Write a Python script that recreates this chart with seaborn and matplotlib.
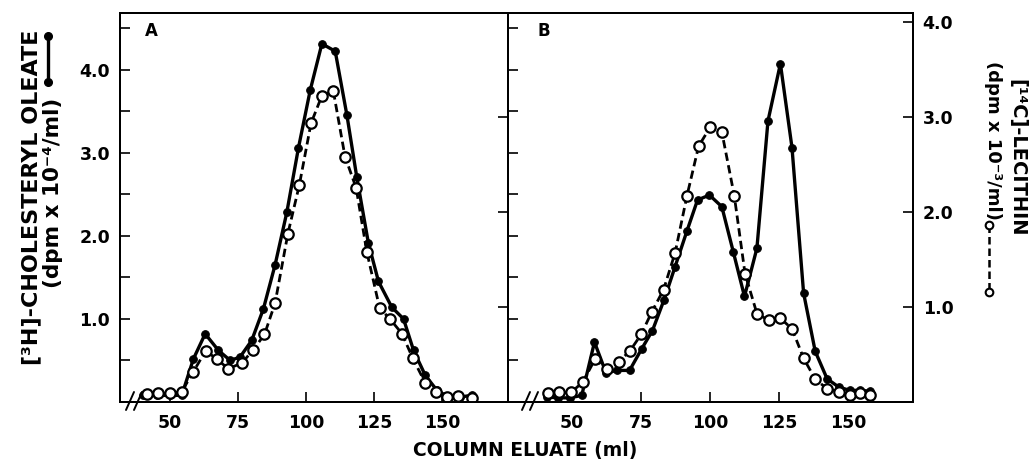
import matplotlib
matplotlib.use('Agg')
import matplotlib.pyplot as plt
from matplotlib.lines import Line2D
import seaborn as sns

# Panel A - [3H]-cholesteryl oleate (filled, left scale)
a_chol_ml = [40.3, 45.2, 50.1, 54.4, 58.7, 63.0, 67.9, 72.2, 75.8, 80.1,
             84.4, 88.7, 93.0, 97.3, 101.6, 105.9, 110.8, 115.1, 118.7, 123.0,
             126.7, 131.6, 135.9, 139.6, 143.9, 148.2, 152.4, 156.7, 161.0]
a_chol = [0.08, 0.08, 0.08, 0.08, 0.52, 0.82, 0.62, 0.50, 0.54, 0.74,
          1.12, 1.65, 2.28, 3.06, 3.75, 4.31, 4.22, 3.45, 2.71, 1.91,
          1.45, 1.14, 1.00, 0.62, 0.32, 0.14, 0.06, 0.06, 0.08]

# Panel A - [14C]-lecithin (open, right scale)
a_lec_ml = [41.5, 45.8, 50.1, 54.4, 58.7, 63.2, 67.3, 71.5, 76.5, 80.7,
            84.8, 88.7, 93.4, 97.6, 101.9, 105.9, 110.1, 114.4, 118.5, 122.4,
            127.1, 131.0, 135.3, 139.3, 143.9, 147.9, 151.8, 156.1, 161.0]
a_lec = [0.08, 0.09, 0.09, 0.11, 0.32, 0.54, 0.45, 0.35, 0.41, 0.55,
         0.71, 1.04, 1.77, 2.28, 2.93, 3.22, 3.27, 2.58, 2.25, 1.58,
         0.99, 0.87, 0.72, 0.46, 0.20, 0.10, 0.05, 0.06, 0.04]

# Panel B - [3H]-cholesteryl oleate (filled, left scale)
b_chol_ml = [40.8, 45.0, 49.3, 53.5, 58.1, 62.3, 66.2, 70.8, 75.2, 79.1,
             83.3, 87.3, 91.6, 95.4, 99.7, 104.2, 108.4, 112.4, 116.9, 120.9,
             125.4, 129.6, 133.8, 138.0, 142.3, 146.5, 150.5, 154.3, 158.0]
b_chol = [0.06, 0.05, 0.05, 0.08, 0.72, 0.35, 0.38, 0.38, 0.64, 0.86,
          1.23, 1.63, 2.06, 2.43, 2.49, 2.35, 1.80, 1.27, 1.85, 3.38,
          4.07, 3.06, 1.31, 0.61, 0.28, 0.18, 0.14, 0.14, 0.13]

# Panel B - [14C]-lecithin (open, right scale)
b_lec_ml = [41.2, 45.4, 49.6, 53.9, 58.3, 62.6, 66.8, 71.0, 75.0, 78.9,
            83.1, 87.3, 91.6, 95.8, 100.0, 104.2, 108.7, 112.6, 116.9, 121.1,
            125.4, 129.6, 133.8, 138.0, 142.3, 146.5, 150.5, 154.3, 158.0]
b_lec = [0.09, 0.10, 0.10, 0.21, 0.45, 0.35, 0.42, 0.54, 0.71, 0.95,
         1.18, 1.57, 2.17, 2.69, 2.89, 2.84, 2.17, 1.35, 0.93, 0.86,
         0.88, 0.77, 0.46, 0.24, 0.14, 0.11, 0.07, 0.09, 0.07]

x_ticks = [50, 75, 100, 125, 150]
left_ticks = [0.5, 1.0, 1.5, 2.0, 2.5, 3.0, 3.5, 4.0, 4.5]
left_labels = ['', '1.0', '', '2.0', '', '3.0', '', '4.0', '']
right_ticks = [1.0, 2.0, 3.0, 4.0]
right_labels = ['1.0', '2.0', '3.0', '4.0']

sns.set_style('ticks')
plt.rcParams['font.family'] = ['DejaVu Sans']
plt.rcParams['font.weight'] = 'bold'
plt.rcParams['text.color'] = 'black'
plt.rcParams['axes.labelcolor'] = 'black'

fig = plt.figure(figsize=(10.29, 4.69), dpi=100)
W, H = 1029, 469


def fx(px):
    return px / W


def fy(py):
    return 1 - py / H


ax_a = fig.add_axes([fx(120), fy(402), fx(508) - fx(120), fy(13) - fy(402)])
ax_b = fig.add_axes([fx(508), fy(402), fx(913) - fx(508), fy(13) - fy(402)])
ax_a2 = ax_a.twinx()
ax_b2 = ax_b.twinx()

filled = dict(color='black', linewidth=2.4, marker='o', markersize=5.5,
              markerfacecolor='black', markeredgecolor='black', sort=False)
opened = dict(color='black', linewidth=2.0, linestyle=(0, (3, 1.6)), marker='o',
              markersize=7.5, markerfacecolor='white', markeredgecolor='black',
              markeredgewidth=1.6, sort=False)

sns.lineplot(x=a_chol_ml, y=a_chol, ax=ax_a, **filled)
sns.lineplot(x=a_lec_ml, y=a_lec, ax=ax_a2, **opened)
sns.lineplot(x=b_chol_ml, y=b_chol, ax=ax_b, **filled)
sns.lineplot(x=b_lec_ml, y=b_lec, ax=ax_b2, **opened)

ax_a.set_xlim(31.7, 174.3)
ax_b.set_xlim(26.8, 173.4)
for ax in (ax_a, ax_b):
    ax.set_ylim(0, 4.68)
for ax in (ax_a2, ax_b2):
    ax.set_ylim(0, 4.09)

for ax in (ax_a, ax_b, ax_a2, ax_b2):
    for sp in ax.spines.values():
        sp.set_linewidth(1.4)
        sp.set_color('black')
    ax.tick_params(direction='in', length=7, width=1.2, colors='black',
                   labelsize=12.5)
    ax.set_xlabel('')
    ax.set_ylabel('')

ax_a.set_xticks(x_ticks)
ax_b.set_xticks(x_ticks)
ax_a.set_xticklabels([str(t) for t in x_ticks])
ax_b.set_xticklabels([str(t) for t in x_ticks])
ax_a.tick_params(axis='x', pad=9)
ax_b.tick_params(axis='x', pad=9)

ax_a.set_yticks(left_ticks)
ax_a.set_yticklabels(left_labels)
ax_a.tick_params(axis='y', pad=7)
ax_b.set_yticks(left_ticks)
ax_b.set_yticklabels([])
ax_a2.set_yticks(right_ticks[:3])
ax_a2.set_yticklabels([])
ax_b2.set_yticks(right_ticks)
ax_b2.set_yticklabels(right_labels)
ax_b2.tick_params(axis='y', pad=7)

ax_a.text(0.08, 0.955, 'A', transform=ax_a.transAxes, fontsize=12,
          fontweight='bold', ha='center', va='center')
ax_b.text(0.088, 0.953, 'B', transform=ax_b.transAxes, fontsize=12,
          fontweight='bold', ha='center', va='center')

# axis break marks
for ax, x0 in ((ax_a, 126), (ax_b, 522)):
    left = 120 if ax is ax_a else 508
    width = 388 if ax is ax_a else 405
    for dx in (0, 8):
        xs = [(x0 + dx - left) / width, (x0 + dx + 8 - left) / width]
        ys = [-8 / 389, 10 / 389]
        ax.plot(xs, ys, color='black', linewidth=1.4, transform=ax.transAxes,
                clip_on=False)

fig.text(fx(525), fy(450), 'COLUMN ELUATE (ml)', fontsize=13.5,
         fontweight='bold', ha='center', va='center')

label_font = ['DejaVu Sans']
fig.text(fx(31), fy(197), '[³H]-CHOLESTERYL OLEATE', fontsize=16,
         fontweight='bold', rotation=90, ha='center', va='center',
         family=label_font)
fig.text(fx(53), fy(193), '(dpm x 10⁻⁴/ml)', fontsize=15.5,
         fontweight='bold', rotation=90, ha='center', va='center',
         family=label_font)
fig.text(fx(1017), fy(158), '[¹⁴C]-LECITHIN', fontsize=14,
         fontweight='bold', rotation=-90, ha='center', va='center',
         family=label_font)
fig.text(fx(993), fy(140), '(dpm x 10⁻³/ml)', fontsize=13,
         fontweight='bold', rotation=-90, ha='center', va='center',
         family=label_font)

# key symbols beside the axis titles
fig.add_artist(Line2D([fx(48), fx(48)], [fy(36), fy(82)], color='black',
                      linewidth=2.4, marker='o', markersize=5.5,
                      transform=fig.transFigure))
fig.add_artist(Line2D([fx(989), fx(989)], [fy(225), fy(292)], color='black',
                      linewidth=1.8, linestyle=(0, (3, 1.6)), marker='o',
                      markersize=5.5, markerfacecolor='white',
                      markeredgewidth=1.5, transform=fig.transFigure))

fig.savefig('out.png', dpi=100)
